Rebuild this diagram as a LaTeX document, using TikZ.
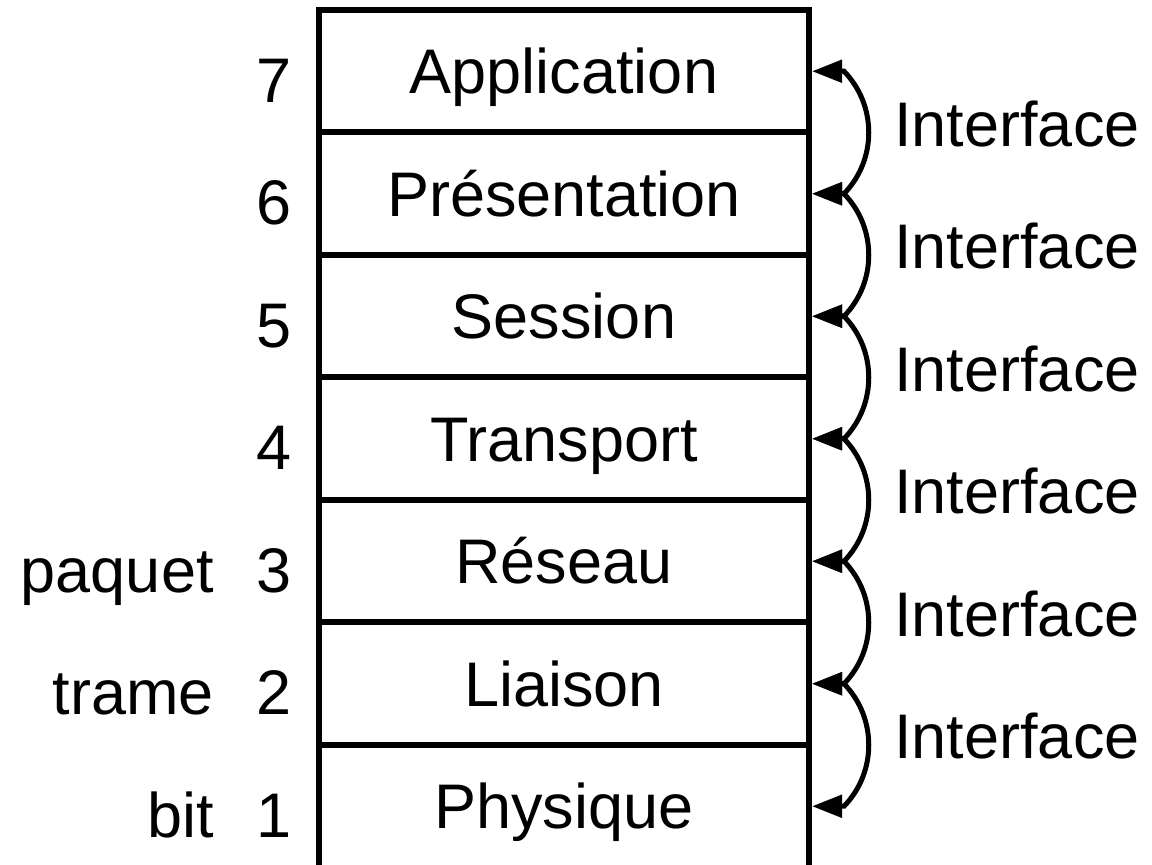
\documentclass[tikz,border=0pt]{standalone}
\usepackage{fontspec}
\setmainfont{Liberation Sans}
\usetikzlibrary{arrows.meta,calc}
\begin{document}
\begin{tikzpicture}[x=0.5pt,y=-0.5pt,
  txt/.style={font=\fontsize{31.5}{36}\selectfont},
  layer/.style={txt,draw,line width=3pt,minimum width=245pt,minimum height=61.25pt,inner sep=0pt,text height=22.5pt,text depth=0pt},
  lbl/.style={txt,inner sep=0pt},
  iface/.style={line width=2.5pt,{Triangle[length=15pt,width=11pt]}-{Triangle[length=15pt,width=11pt]}}]
\useasboundingbox (0,0) rectangle (1152,865);
% layers
\node[layer] (L7) at (564,71.25) {Application};
\node[layer] (L6) at (564,193.75) {Présentation};
\node[layer] (L5) at (564,316.25) {Session};
\node[layer] (L4) at (564,438.75) {Transport};
\node[layer] (L3) at (564,561.25) {Réseau};
\node[layer] (L2) at (564,683.75) {Liaison};
\node[layer] (L1) at (564,806.25) {Physique};
% numbers
\node[lbl,anchor=base east] (n7) at (292,102.25) {7};
\node[lbl,anchor=base east] (n6) at (292,224.75) {6};
\node[lbl,anchor=base east] (n5) at (292,347.25) {5};
\node[lbl,anchor=base east] (n4) at (292,469.75) {4};
\node[lbl,anchor=base east] (n3) at (292,592.25) {3};
\node[lbl,anchor=base east] (n2) at (292,714.75) {2};
\node[lbl,anchor=base east] (n1) at (292,837.25) {1};
% data units
\node[lbl,anchor=base east] (u3) at (214,592.25) {paquet};
\node[lbl,anchor=base east] (u2) at (214,714.75) {trame};
\node[lbl,anchor=base east] (u1) at (214,837.25) {bit};
% interface labels
\node[lbl,anchor=base west] (i76) at (894,146.5) {Interface};
\node[lbl,anchor=base west] (i65) at (894,269) {Interface};
\node[lbl,anchor=base west] (i54) at (894,391.5) {Interface};
\node[lbl,anchor=base west] (i43) at (894,514) {Interface};
\node[lbl,anchor=base west] (i32) at (894,636.5) {Interface};
\node[lbl,anchor=base west] (i21) at (894,759) {Interface};
% interface arcs
\draw[iface] (L7.east) -- ++(32,0) .. controls +(33,34) and ($(L6.east)+(65,-34)$) .. ($(L6.east)+(32,0)$) -- (L6.east);
\draw[iface] (L6.east) -- ++(32,0) .. controls +(33,34) and ($(L5.east)+(65,-34)$) .. ($(L5.east)+(32,0)$) -- (L5.east);
\draw[iface] (L5.east) -- ++(32,0) .. controls +(33,34) and ($(L4.east)+(65,-34)$) .. ($(L4.east)+(32,0)$) -- (L4.east);
\draw[iface] (L4.east) -- ++(32,0) .. controls +(33,34) and ($(L3.east)+(65,-34)$) .. ($(L3.east)+(32,0)$) -- (L3.east);
\draw[iface] (L3.east) -- ++(32,0) .. controls +(33,34) and ($(L2.east)+(65,-34)$) .. ($(L2.east)+(32,0)$) -- (L2.east);
\draw[iface] (L2.east) -- ++(32,0) .. controls +(33,34) and ($(L1.east)+(65,-34)$) .. ($(L1.east)+(32,0)$) -- (L1.east);
\end{tikzpicture}
\end{document}
